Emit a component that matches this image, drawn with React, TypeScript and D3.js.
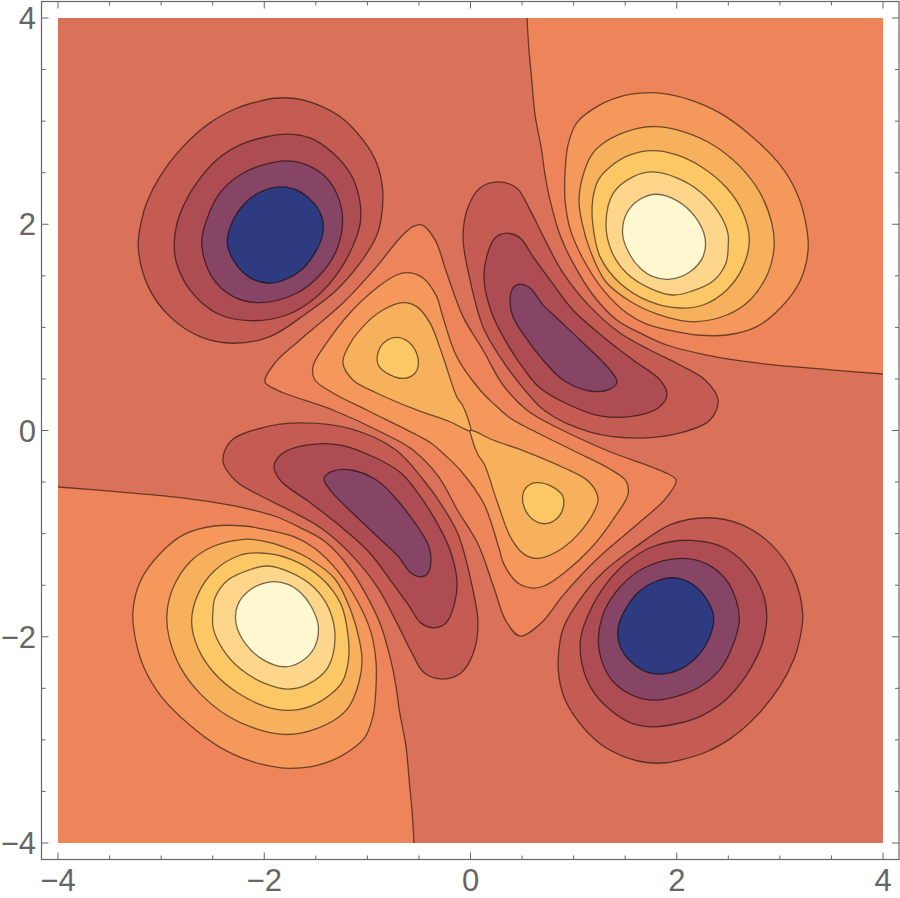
import React from 'react';
import * as d3 from 'd3';

type Pt = [number, number];

// tick values
const tickLabels = [-4, -2, 0, 2, 4];
const minorTicks = [-3.5, -3, -2.5, -1.5, -1, -0.5, 0.5, 1, 1.5, 2.5, 3, 3.5];

// level colours, darkest to lightest
const levelColors = ['#2f3b80', '#874566', '#ad4c52', '#c45c53', '#da7259', '#ee8459', '#f4995b', '#f7b15d', '#fcc765', '#fed68b', '#fff7cf'];

// open boundaries that end on the frame
const cornerTR: Pt[] = [[0.548,4],[0.567,3.69],[0.594,3.4],[0.626,3.06],[0.689,2.721],[0.723,2.478],[0.771,2.236],[0.868,1.896],[0.994,1.625],[1.188,1.314],[1.418,1.072],[1.644,0.946],[1.903,0.829],[2.291,0.732],[2.776,0.655],[3.39,0.597],[4,0.548]];
const cornerBL: Pt[] = [[-0.548,-4],[-0.567,-3.69],[-0.594,-3.4],[-0.626,-3.06],[-0.689,-2.721],[-0.723,-2.478],[-0.771,-2.236],[-0.868,-1.896],[-0.994,-1.625],[-1.188,-1.314],[-1.418,-1.072],[-1.644,-0.946],[-1.903,-0.829],[-2.291,-0.732],[-2.776,-0.655],[-3.39,-0.597],[-4,-0.548]];

// top left low
const tlL3: Pt[] = [[-1.9,3.222],[-1.72,3.222],[-1.528,3.177],[-1.266,3.044],[-1.043,2.818],[-0.91,2.595],[-0.852,2.333],[-0.868,2.042],[-0.907,1.896],[-1.072,1.622],[-1.298,1.363],[-1.589,1.137],[-1.945,0.91],[-2.301,0.846],[-2.623,0.91],[-2.915,1.104],[-3.125,1.395],[-3.222,1.783],[-3.189,2.042],[-3.141,2.207],[-3.012,2.462],[-2.788,2.753],[-2.527,2.983],[-2.268,3.125],[-2.042,3.195]];
const tlL2: Pt[] = [[-1.783,2.873],[-1.557,2.837],[-1.334,2.692],[-1.169,2.498],[-1.081,2.268],[-1.065,2.042],[-1.104,1.88],[-1.266,1.557],[-1.492,1.298],[-1.783,1.12],[-2.139,1.065],[-2.462,1.137],[-2.721,1.363],[-2.85,1.622],[-2.873,1.816],[-2.837,2.042],[-2.788,2.171],[-2.656,2.401],[-2.462,2.624],[-2.236,2.769],[-2.042,2.834]];
const tlL1: Pt[] = [[-1.783,2.614],[-1.589,2.575],[-1.395,2.449],[-1.285,2.268],[-1.24,2.042],[-1.298,1.751],[-1.46,1.508],[-1.686,1.331],[-2.042,1.24],[-2.3,1.298],[-2.51,1.492],[-2.607,1.816],[-2.559,2.042],[-2.43,2.304],[-2.236,2.478],[-2.042,2.565]];
const tlL0: Pt[] = [[-1.816,2.362],[-1.654,2.316],[-1.492,2.171],[-1.434,2.042],[-1.434,1.9],[-1.492,1.751],[-1.622,1.573],[-1.783,1.469],[-1.961,1.428],[-2.155,1.492],[-2.301,1.654],[-2.359,1.816],[-2.316,2.01],[-2.187,2.204],[-2.01,2.326]];

// bottom right low
const brL3: Pt[] = [[1.9,-3.222],[1.72,-3.222],[1.528,-3.177],[1.266,-3.044],[1.043,-2.818],[0.91,-2.595],[0.852,-2.333],[0.868,-2.042],[0.907,-1.896],[1.072,-1.622],[1.298,-1.363],[1.589,-1.137],[1.945,-0.91],[2.301,-0.846],[2.623,-0.91],[2.915,-1.104],[3.125,-1.395],[3.222,-1.783],[3.189,-2.042],[3.141,-2.207],[3.012,-2.462],[2.788,-2.753],[2.527,-2.983],[2.268,-3.125],[2.042,-3.195]];
const brL2: Pt[] = [[1.783,-2.873],[1.557,-2.837],[1.334,-2.692],[1.169,-2.498],[1.081,-2.268],[1.065,-2.042],[1.104,-1.88],[1.266,-1.557],[1.492,-1.298],[1.783,-1.12],[2.139,-1.065],[2.462,-1.137],[2.721,-1.363],[2.85,-1.622],[2.873,-1.816],[2.837,-2.042],[2.788,-2.171],[2.656,-2.401],[2.462,-2.624],[2.236,-2.769],[2.042,-2.834]];
const brL1: Pt[] = [[1.783,-2.614],[1.589,-2.575],[1.395,-2.449],[1.285,-2.268],[1.24,-2.042],[1.298,-1.751],[1.46,-1.508],[1.686,-1.331],[2.042,-1.24],[2.3,-1.298],[2.51,-1.492],[2.607,-1.816],[2.559,-2.042],[2.43,-2.304],[2.236,-2.478],[2.042,-2.565]];
const brL0: Pt[] = [[1.816,-2.362],[1.654,-2.316],[1.492,-2.171],[1.434,-2.042],[1.434,-1.9],[1.492,-1.751],[1.622,-1.573],[1.783,-1.469],[1.961,-1.428],[2.155,-1.492],[2.301,-1.654],[2.359,-1.816],[2.316,-2.01],[2.187,-2.204],[2.01,-2.326]];

// top right high
const trL6: Pt[] = [[1.838,3.271],[2.129,3.206],[2.42,3.077],[2.711,2.866],[3.002,2.575],[3.164,2.304],[3.245,2.042],[3.274,1.76],[3.196,1.45],[3.002,1.185],[2.776,1.007],[2.485,0.926],[2.194,0.926],[2.032,0.952],[1.709,1.032],[1.515,1.139],[1.285,1.366],[1.091,1.666],[0.965,1.958],[0.917,2.236],[0.917,2.498],[0.946,2.769],[1.03,2.983],[1.256,3.157],[1.479,3.244],[1.644,3.271]];
const trL7: Pt[] = [[1.806,2.947],[2.061,2.898],[2.352,2.769],[2.614,2.559],[2.808,2.304],[2.921,2.013],[2.944,1.783],[2.885,1.528],[2.711,1.266],[2.485,1.12],[2.194,1.055],[2.032,1.067],[1.806,1.13],[1.576,1.236],[1.314,1.44],[1.159,1.751],[1.082,2.013],[1.052,2.236],[1.101,2.507],[1.188,2.692],[1.305,2.798],[1.479,2.886],[1.644,2.934]];
const trL8: Pt[] = [[1.77,2.714],[2,2.672],[2.255,2.546],[2.485,2.352],[2.643,2.11],[2.704,1.848],[2.643,1.589],[2.485,1.363],[2.255,1.217],[2.032,1.188],[1.741,1.249],[1.45,1.428],[1.256,1.686],[1.185,2.01],[1.185,2.236],[1.24,2.43],[1.353,2.556],[1.547,2.672]];
const trL9: Pt[] = [[1.77,2.507],[2,2.449],[2.226,2.316],[2.401,2.122],[2.495,1.916],[2.498,1.77],[2.478,1.625],[2.352,1.45],[2.129,1.346],[1.964,1.314],[1.741,1.379],[1.515,1.525],[1.37,1.734],[1.314,2.01],[1.385,2.301],[1.579,2.462]];
const trL10: Pt[] = [[1.806,2.291],[2,2.229],[2.177,2.074],[2.274,1.867],[2.255,1.686],[2.129,1.54],[1.935,1.467],[1.77,1.492],[1.644,1.576],[1.547,1.702],[1.476,1.896],[1.515,2.107],[1.644,2.242]];

// bottom left high
const blL6: Pt[] = [[-1.838,-3.271],[-2.129,-3.206],[-2.42,-3.077],[-2.711,-2.866],[-3.002,-2.575],[-3.164,-2.304],[-3.245,-2.042],[-3.274,-1.76],[-3.196,-1.45],[-3.002,-1.185],[-2.776,-1.007],[-2.485,-0.926],[-2.194,-0.926],[-2.032,-0.952],[-1.709,-1.032],[-1.515,-1.139],[-1.285,-1.366],[-1.091,-1.666],[-0.965,-1.958],[-0.917,-2.236],[-0.917,-2.498],[-0.946,-2.769],[-1.03,-2.983],[-1.256,-3.157],[-1.479,-3.244],[-1.644,-3.271]];
const blL7: Pt[] = [[-1.806,-2.947],[-2.061,-2.898],[-2.352,-2.769],[-2.614,-2.559],[-2.808,-2.304],[-2.921,-2.013],[-2.944,-1.783],[-2.885,-1.528],[-2.711,-1.266],[-2.485,-1.12],[-2.194,-1.055],[-2.032,-1.067],[-1.806,-1.13],[-1.576,-1.236],[-1.314,-1.44],[-1.159,-1.751],[-1.082,-2.013],[-1.052,-2.236],[-1.101,-2.507],[-1.188,-2.692],[-1.305,-2.798],[-1.479,-2.886],[-1.644,-2.934]];
const blL8: Pt[] = [[-1.77,-2.714],[-2,-2.672],[-2.255,-2.546],[-2.485,-2.352],[-2.643,-2.11],[-2.704,-1.848],[-2.643,-1.589],[-2.485,-1.363],[-2.255,-1.217],[-2.032,-1.188],[-1.741,-1.249],[-1.45,-1.428],[-1.256,-1.686],[-1.185,-2.01],[-1.185,-2.236],[-1.24,-2.43],[-1.353,-2.556],[-1.547,-2.672]];
const blL9: Pt[] = [[-1.77,-2.507],[-2,-2.449],[-2.226,-2.316],[-2.401,-2.122],[-2.495,-1.916],[-2.498,-1.77],[-2.478,-1.625],[-2.352,-1.45],[-2.129,-1.346],[-1.964,-1.314],[-1.741,-1.379],[-1.515,-1.525],[-1.37,-1.734],[-1.314,-2.01],[-1.385,-2.301],[-1.579,-2.462]];
const blL10: Pt[] = [[-1.806,-2.291],[-2,-2.229],[-2.177,-2.074],[-2.274,-1.867],[-2.255,-1.686],[-2.129,-1.54],[-1.935,-1.467],[-1.77,-1.492],[-1.644,-1.576],[-1.547,-1.702],[-1.476,-1.896],[-1.515,-2.107],[-1.644,-2.242]];

// inner lobes, upper right
const urL3: Pt[] = [[0.267,2.41],[0.448,2.352],[0.577,2.139],[0.723,1.848],[0.897,1.528],[1.159,1.201],[1.45,0.946],[1.741,0.781],[2.032,0.635],[2.275,0.49],[2.401,0.296],[2.323,0.102],[2.032,-0.024],[1.644,-0.073],[1.159,-0.015],[0.723,0.189],[0.448,0.49],[0.286,0.713],[0.121,1.004],[-0.005,1.46],[-0.073,1.877],[-0.024,2.168],[0.092,2.352]];
const urL2: Pt[] = [[0.351,1.913],[0.48,1.868],[0.606,1.687],[0.771,1.46],[0.994,1.169],[1.285,0.91],[1.576,0.684],[1.838,0.49],[1.906,0.344],[1.819,0.218],[1.595,0.141],[1.256,0.141],[0.917,0.267],[0.674,0.412],[0.545,0.558],[0.351,0.849],[0.206,1.14],[0.131,1.46],[0.157,1.686],[0.238,1.867]];
const urL1: Pt[] = [[0.473,1.418],[0.577,1.382],[0.703,1.218],[0.836,1.091],[1.062,0.878],[1.353,0.587],[1.421,0.47],[1.353,0.402],[1.159,0.383],[0.897,0.49],[0.703,0.684],[0.529,0.91],[0.412,1.104],[0.383,1.249],[0.412,1.382]];

// inner lobes, lower left
const llL3: Pt[] = [[-0.267,-2.41],[-0.448,-2.352],[-0.577,-2.139],[-0.723,-1.848],[-0.897,-1.528],[-1.159,-1.201],[-1.45,-0.946],[-1.741,-0.781],[-2.032,-0.635],[-2.275,-0.49],[-2.401,-0.296],[-2.323,-0.102],[-2.032,0.024],[-1.644,0.073],[-1.159,0.015],[-0.723,-0.189],[-0.448,-0.49],[-0.286,-0.713],[-0.121,-1.004],[0.005,-1.46],[0.073,-1.877],[0.024,-2.168],[-0.092,-2.352]];
const llL2: Pt[] = [[-0.351,-1.913],[-0.48,-1.868],[-0.606,-1.687],[-0.771,-1.46],[-0.994,-1.169],[-1.285,-0.91],[-1.576,-0.684],[-1.838,-0.49],[-1.906,-0.344],[-1.819,-0.218],[-1.595,-0.141],[-1.256,-0.141],[-0.917,-0.267],[-0.674,-0.412],[-0.545,-0.558],[-0.351,-0.849],[-0.206,-1.14],[-0.131,-1.46],[-0.157,-1.686],[-0.238,-1.867]];
const llL1: Pt[] = [[-0.473,-1.418],[-0.577,-1.382],[-0.703,-1.218],[-0.836,-1.091],[-1.062,-0.878],[-1.353,-0.587],[-1.421,-0.47],[-1.353,-0.402],[-1.159,-0.383],[-0.897,-0.49],[-0.703,-0.684],[-0.529,-0.91],[-0.412,-1.104],[-0.383,-1.249],[-0.412,-1.382]];

// centre bow tie
const midL5: Pt[] = [[-0.473,1.993],[-0.344,1.848],[-0.231,1.528],[-0.073,1.104],[0.121,0.781],[0.315,0.441],[0.558,0.189],[0.849,0.024],[1.334,-0.199],[1.877,-0.403],[1.993,-0.48],[1.896,-0.655],[1.654,-0.878],[1.237,-1.236],[0.907,-1.586],[0.684,-1.867],[0.48,-1.993],[0.344,-1.848],[0.228,-1.528],[0.073,-1.101],[-0.121,-0.781],[-0.315,-0.441],[-0.558,-0.189],[-0.849,-0.024],[-1.334,0.199],[-1.877,0.393],[-1.993,0.473],[-1.896,0.655],[-1.654,0.878],[-1.237,1.236],[-0.91,1.589],[-0.684,1.867],[-0.558,1.977]];
const midL6: Pt[] = [[-0.606,1.531],[-0.461,1.479],[-0.328,1.298],[-0.279,1.14],[-0.134,0.716],[0.092,0.393],[0.238,0.247],[0.383,0.121],[0.519,0.044],[1.004,-0.199],[1.334,-0.364],[1.508,-0.49],[1.528,-0.616],[1.392,-0.849],[1.169,-1.14],[0.907,-1.382],[0.713,-1.508],[0.606,-1.528],[0.461,-1.479],[0.325,-1.298],[0.276,-1.14],[0.131,-0.713],[-0.092,-0.393],[-0.238,-0.247],[-0.383,-0.121],[-0.519,-0.044],[-1.007,0.199],[-1.334,0.364],[-1.508,0.49],[-1.528,0.619],[-1.395,0.849],[-1.169,1.14],[-0.91,1.382],[-0.716,1.508]];
const ulL7: Pt[] = [[-0.655,1.24],[-0.522,1.201],[-0.393,1.043],[-0.267,0.716],[-0.134,0.328],[-0.07,0.231],[-0.012,0.073],[0.002,-0.002],[-0.07,0.021],[-0.199,0.085],[-0.522,0.199],[-0.91,0.364],[-1.14,0.49],[-1.237,0.655],[-1.201,0.781],[-1.043,1.007],[-0.849,1.168]];
const lrL7: Pt[] = [[0.655,-1.24],[0.522,-1.201],[0.393,-1.043],[0.267,-0.716],[0.134,-0.328],[0.07,-0.231],[0.012,-0.073],[-0.002,0.002],[0.07,-0.021],[0.199,-0.085],[0.522,-0.199],[0.91,-0.364],[1.14,-0.49],[1.237,-0.655],[1.201,-0.781],[1.043,-1.007],[0.849,-1.168]];
const ulL8: Pt[] = [[-0.716,0.904],[-0.603,0.861],[-0.522,0.749],[-0.506,0.635],[-0.538,0.555],[-0.635,0.506],[-0.781,0.539],[-0.894,0.635],[-0.894,0.764],[-0.829,0.861]];
const lrL8: Pt[] = [[0.716,-0.904],[0.603,-0.861],[0.522,-0.749],[0.506,-0.635],[0.538,-0.555],[0.635,-0.506],[0.781,-0.539],[0.894,-0.635],[0.894,-0.764],[0.829,-0.861]];

// closed rings per level, painted in this order
const rings: [number, Pt[]][] = [
  [3, tlL3], [2, tlL2], [1, tlL1], [0, tlL0],
  [3, brL3], [2, brL2], [1, brL1], [0, brL0],
  [3, urL3], [2, urL2], [1, urL1],
  [3, llL3], [2, llL2], [1, llL1],
  [6, trL6], [7, trL7], [8, trL8], [9, trL9], [10, trL10],
  [6, blL6], [7, blL7], [8, blL8], [9, blL9], [10, blL10],
  [5, midL5], [6, midL6], [7, ulL7], [7, lrL7], [8, ulL8], [8, lrL8],
];

const x = d3.scaleLinear().domain([-4, 4]).range([58, 883]);
const y = d3.scaleLinear().domain([-4, 4]).range([843, 18]);

const closed = d3.line<Pt>().x(d => x(d[0])).y(d => y(d[1])).curve(d3.curveCatmullRomClosed.alpha(0.5));
const open = d3.line<Pt>().x(d => x(d[0])).y(d => y(d[1])).curve(d3.curveCatmullRom.alpha(0.5));

const frame = { left: 41.5, top: 1.5, right: 899, bottom: 859.5 };
const axisColor = '#666666';
const lineColor = 'rgba(0,0,0,0.55)';
const lineWidth = 1.3;
const fontFamily = '"Liberation Sans", Arial, sans-serif';

const fmt = (v: number) => (v < 0 ? `\u2212${-v}` : `${v}`);

export default function App() {
  const tick = (v: number, len: number) => (
    <g key={`${v}-${len}`} stroke={axisColor} strokeWidth={1}>
      <line x1={x(v)} x2={x(v)} y1={frame.bottom} y2={frame.bottom - len} />
      <line x1={x(v)} x2={x(v)} y1={frame.top} y2={frame.top + len} />
      <line y1={y(v)} y2={y(v)} x1={frame.left} x2={frame.left + len} />
      <line y1={y(v)} y2={y(v)} x1={frame.right} x2={frame.right - len} />
    </g>
  );

  return (
    <svg width={900} height={898} style={{ position: 'absolute', left: 0, top: 0, background: '#fff' }}>
      <defs>
        <clipPath id="plot">
          <rect x={x(-4)} y={y(4)} width={x(4) - x(-4)} height={y(-4) - y(4)} />
        </clipPath>
      </defs>
      <g clipPath="url(#plot)">
        <rect x={x(-4)} y={y(4)} width={x(4) - x(-4)} height={y(-4) - y(4)} fill={levelColors[4]} />
        <path d={`${open(cornerTR)}L${x(4)},${y(4)}Z`} fill={levelColors[5]} />
        <path d={`${open(cornerBL)}L${x(-4)},${y(-4)}Z`} fill={levelColors[5]} />
        <path d={open(cornerTR) ?? ''} fill="none" stroke={lineColor} strokeWidth={lineWidth} />
        <path d={open(cornerBL) ?? ''} fill="none" stroke={lineColor} strokeWidth={lineWidth} />
        {rings.map(([level, pts], i) => (
          <path key={i} d={closed(pts) ?? ''} fill={levelColors[level]} stroke={lineColor} strokeWidth={lineWidth} />
        ))}
      </g>
      <rect x={frame.left} y={frame.top} width={frame.right - frame.left} height={frame.bottom - frame.top} fill="none" stroke={axisColor} strokeWidth={1.2} />
      {minorTicks.map(v => tick(v, 4))}
      {tickLabels.map(v => tick(v, 7))}
      <g fill={axisColor} fontFamily={fontFamily} fontSize={31}>
        {tickLabels.map(v => (
          <text key={`x${v}`} x={x(v)} y={891} textAnchor="middle">{fmt(v)}</text>
        ))}
        {tickLabels.map(v => (
          <text key={`y${v}`} x={36} y={y(v) + 11} textAnchor="end">{fmt(v)}</text>
        ))}
      </g>
    </svg>
  );
}
